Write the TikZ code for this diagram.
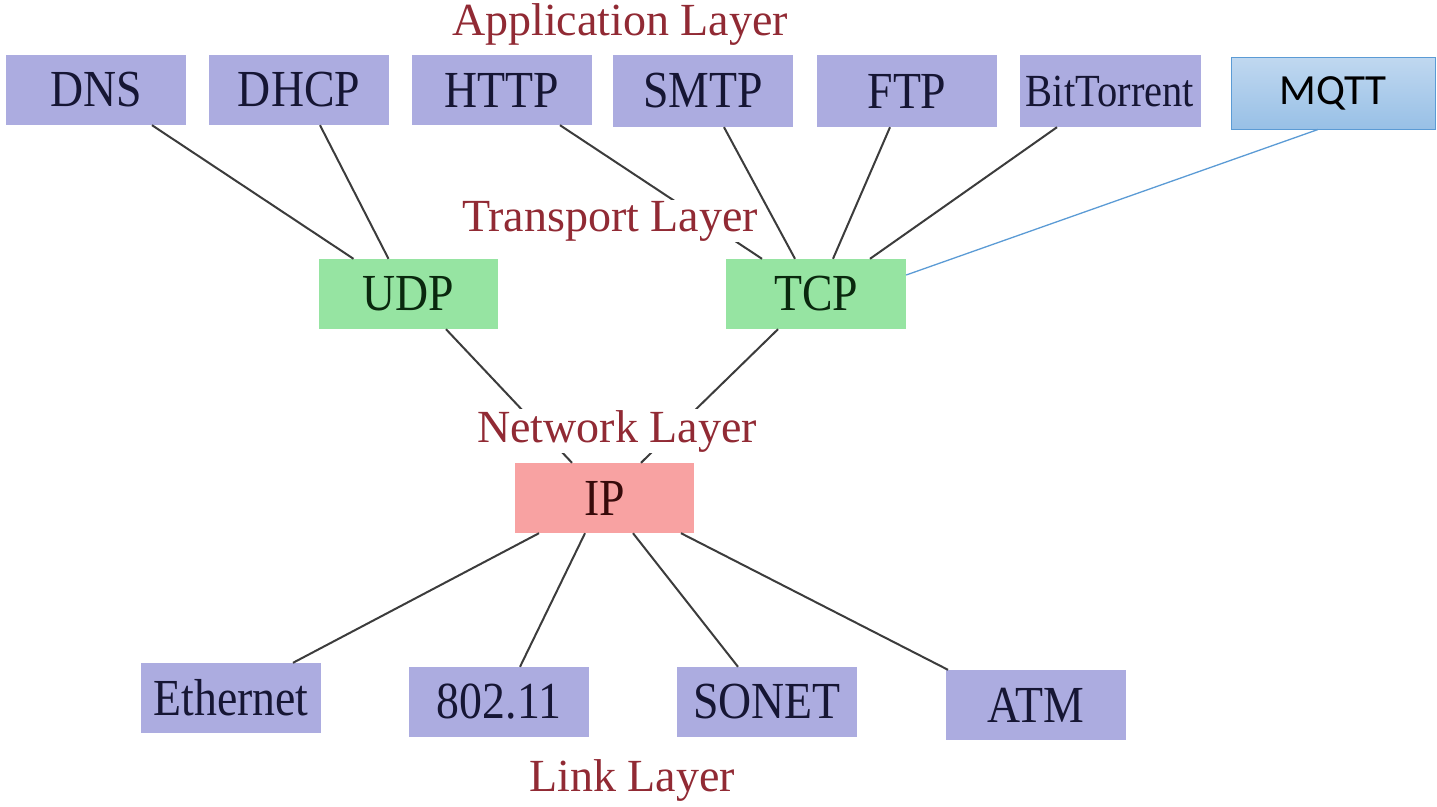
\documentclass[tikz,border=0pt]{standalone}
\usepackage{fontspec}
\setmainfont{Liberation Serif}
\newfontfamily\boxfont[FakeStretch=0.88]{Liberation Serif}
\newfontfamily\calfont{Carlito}
\definecolor{lav}{RGB}{172,172,224}
\definecolor{grn}{RGB}{150,228,162}
\definecolor{pnk}{RGB}{248,162,162}
\definecolor{navytxt}{RGB}{22,22,52}
\definecolor{grntxt}{RGB}{10,40,14}
\definecolor{redtxt}{RGB}{55,10,10}
\definecolor{lbl}{RGB}{145,42,52}
\definecolor{wire}{RGB}{60,60,60}
\definecolor{mqtop}{RGB}{192,216,240}
\definecolor{mqbot}{RGB}{152,192,230}
\definecolor{mqline}{RGB}{91,155,213}
\tikzset{
  proto/.style={rectangle, inner sep=0pt, minimum width=180pt, minimum height=70pt,
    font=\boxfont\fontsize{52}{52}\selectfont},
  appbox/.style={proto, fill=lav, text=navytxt},
  tbox/.style={proto, fill=grn, text=grntxt},
  ipbox/.style={proto, fill=pnk, text=redtxt},
  layerlbl/.style={fill=white, inner sep=1pt, text=lbl, font=\fontsize{46}{46}\selectfont},
  wireline/.style={draw=wire, line width=2pt},
  mqbox/.style={rectangle, inner sep=0pt, minimum width=204pt, minimum height=72pt,
    top color=mqtop, bottom color=mqbot, draw=mqline, line width=1pt,
    font=\calfont\fontsize{43}{43}\selectfont, text=black},
  mqwire/.style={draw=mqline, line width=1.3pt}
}
\begin{document}
\begin{tikzpicture}[x=1pt,y=-1pt]
\useasboundingbox (0,0) rectangle (1437,806);
% application layer
\node[appbox] (DNS) at (96,90) {DNS};
\node[appbox] (DHCP) at (299,90) {DHCP};
\node[appbox] (HTTP) at (502,90) {HTTP};
\node[appbox, minimum height=72pt] (SMTP) at (703,91) {SMTP};
\node[appbox, minimum height=72pt] (FTP) at (907,91) {FTP};
\node[appbox, minimum width=181pt, minimum height=72pt, font=\boxfont\fontsize{46}{46}\selectfont] (BT) at (1110,91) {BitTorrent};
\node[mqbox] (MQTT) at (1333,93) {MQTT};
% transport
\node[tbox, minimum width=179pt] (UDP) at (408.5,294) {UDP};
\node[tbox] (TCP) at (816,294) {TCP};
% network
\node[ipbox, minimum width=179pt] (IP) at (604.5,498) {IP};
% link
\node[appbox] (ETH) at (231,698) {Ethernet};
\node[appbox] (WIFI) at (499,702) {802.11};
\node[appbox] (SONET) at (767,702) {SONET};
\node[appbox] (ATM) at (1036,705) {ATM};
% connectors
\draw[wireline] ([xshift=56pt]DNS.south) -- ([xshift=-55pt]UDP.north);
\draw[wireline] ([xshift=21pt]DHCP.south) -- ([xshift=-20pt]UDP.north);
\draw[wireline] ([xshift=58pt]HTTP.south) -- ([xshift=-54pt]TCP.north);
\draw[wireline] ([xshift=21pt]SMTP.south) -- ([xshift=-21pt]TCP.north);
\draw[wireline] ([xshift=-17pt]FTP.south) -- ([xshift=17pt]TCP.north);
\draw[wireline] ([xshift=-53pt]BT.south) -- ([xshift=54pt]TCP.north);
\draw[mqwire] ([xshift=-15pt]MQTT.south) -- ([yshift=19pt]TCP.east);
\draw[wireline] ([xshift=37.5pt]UDP.south) -- ([xshift=-32.5pt]IP.north);
\draw[wireline] ([xshift=-38pt]TCP.south) -- ([xshift=36.5pt]IP.north);
\draw[wireline] ([xshift=-65.5pt]IP.south) -- ([xshift=62pt]ETH.north);
\draw[wireline] ([xshift=-19.5pt]IP.south) -- ([xshift=21pt]WIFI.north);
\draw[wireline] ([xshift=28.5pt]IP.south) -- ([xshift=-29pt]SONET.north);
\draw[wireline] ([xshift=76.5pt]IP.south) -- ([xshift=-88pt]ATM.north);
% layer labels
\node[layerlbl] (LApp) at (620,25) {Application Layer};
\node[layerlbl] (LTr) at (610,221) {Transport Layer};
\node[layerlbl] (LNet) at (617,431) {Network Layer};
\node[layerlbl] (LLink) at (632,780) {Link Layer};
\end{tikzpicture}
\end{document}
